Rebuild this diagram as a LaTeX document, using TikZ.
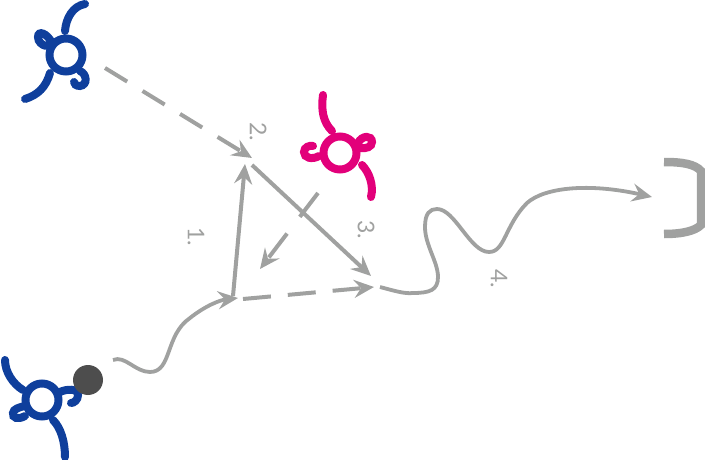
\documentclass[tikz,border=0pt]{standalone}
\usepackage{fontspec}
\setmainfont{Lato}
\usetikzlibrary{arrows.meta}
\definecolor{pblue}{HTML}{0F3F9C}
\definecolor{ppink}{HTML}{E2007A}
\definecolor{pgray}{HTML}{A0A1A0}
\definecolor{pdark}{HTML}{4D4D4D}
\tikzset{
	limb/.style={line width=8pt, line cap=round},
	ring/.style={circle, draw, line width=8pt, minimum size=33pt, inner sep=0pt},
	link/.style={pgray, line width=4pt, -{Stealth[length=20pt,width=18pt,inset=7pt]}},
	wave/.style={pgray, line width=3.8pt, -{Stealth[length=20pt,width=18pt,inset=7pt]}},
	steplabel/.style={pgray, rotate=-90, font=\fontsize{23}{23}\selectfont, inner sep=0pt},
}
\begin{document}
\begin{tikzpicture}[x=1pt, y=-1pt]
\useasboundingbox (0,0) rectangle (705,460);
% first particle
\node[ring, pblue] (topring) at (66,55) {};
\draw[limb, pblue] (65,31) .. controls (66,18) and (73,6) .. (85,4);
\draw[limb, pblue] (50,73) .. controls (46,87) and (38,95) .. (25,99);
\draw[limb, pblue] (52,43) .. controls (47,33) and (38,30) .. (38,37) .. controls (38,42) and (42,45) .. (46,46);
\draw[limb, pblue] (80,71) .. controls (87,74) and (88,85) .. (80,86) .. controls (76,86) and (74,84) .. (74,82);
% second particle
\node[ring, pblue] (lowring) at (42,400) {};
\draw[limb, pblue] (5,360) .. controls (5,372) and (13,384) .. (23,390);
\draw[limb, pblue] (53,420) .. controls (61,428) and (65,442) .. (65,457);
\draw[limb, pblue] (60,392) .. controls (66,389) and (78,388) .. (78,395) .. controls (78,400) and (74,403) .. (71,403);
\draw[limb, pblue] (25,416) .. controls (18,420) and (12,418) .. (13,413) .. controls (13,409) and (20,407) .. (25,406);
\node[circle, fill=pdark, minimum size=30pt, inner sep=0pt] (blob) at (88,380) {};
% third particle
\node[ring, ppink] (midring) at (340,153) {};
\draw[limb, ppink] (323,95) .. controls (321,110) and (323,122) .. (332,131);
\draw[limb, ppink] (362,165) .. controls (369,172) and (374,185) .. (371,197);
\draw[limb, ppink] (358,143) .. controls (362,135) and (372,135) .. (372,142) .. controls (372,147) and (366,149) .. (360,148);
\draw[limb, ppink] (319,156) .. controls (312,160) and (304,158) .. (304,152) .. controls (304,147) and (310,145) .. (313,146);
% detector
\coordinate (cupa) at (664,162);
\coordinate (cupb) at (664,234);
\draw[pgray, line width=8.5pt] (cupa) .. controls (682,162) and (695,164) .. (701,171) -- (701,225) .. controls (695,231) and (682,234) .. (cupb);
% connectors
\coordinate (wavea) at (113,360);
\coordinate (waveb) at (238,298);
\coordinate (sidea) at (233,296);
\coordinate (sideb) at (245,164);
\coordinate (crossa) at (252,165);
\coordinate (crossb) at (371,276);
\coordinate (hopa) at (105,68);
\coordinate (hopb) at (252,158);
\coordinate (basea) at (243,299);
\coordinate (baseb) at (374,287);
\coordinate (dropa) at (318,193);
\coordinate (dropb) at (260,269);
\coordinate (wavec) at (380,287);
\coordinate (waved) at (652,197);
\draw[wave] (wavea) .. controls (125,355) and (135,372) .. (150,372) .. controls (172,372) and (165,335) .. (190,318) .. controls (205,306) and (220,300) .. (waveb);
\draw[wave] (wavec) .. controls (395,291) and (405,294) .. (413,293) .. controls (430,293) and (438,290) .. (438,277) .. controls (438,262) and (425,245) .. (425,227) .. controls (425,213) and (430,209) .. (437,209) .. controls (455,209) and (470,252) .. (489,252) .. controls (505,252) and (505,225) .. (527,203) .. controls (545,187) and (590,183) .. (waved);
\path[link]
(sidea) edge (sideb)
(crossa) edge (crossb)
;
\path[link, dash pattern=on 26pt off 18pt]
(hopa) edge (hopb)
;
\path[link, dash pattern=on 28pt off 17pt]
(basea) edge (baseb)
;
\path[link, dash pattern=on 30pt off 21pt]
(dropa) edge (dropb)
;
% labels
\node[steplabel] (one) at (196,237) {1.};
\node[steplabel] (two) at (258,132) {2.};
\node[steplabel] (three) at (366,230) {3.};
\node[steplabel] (four) at (499,279) {4.};
\end{tikzpicture}
\end{document}
